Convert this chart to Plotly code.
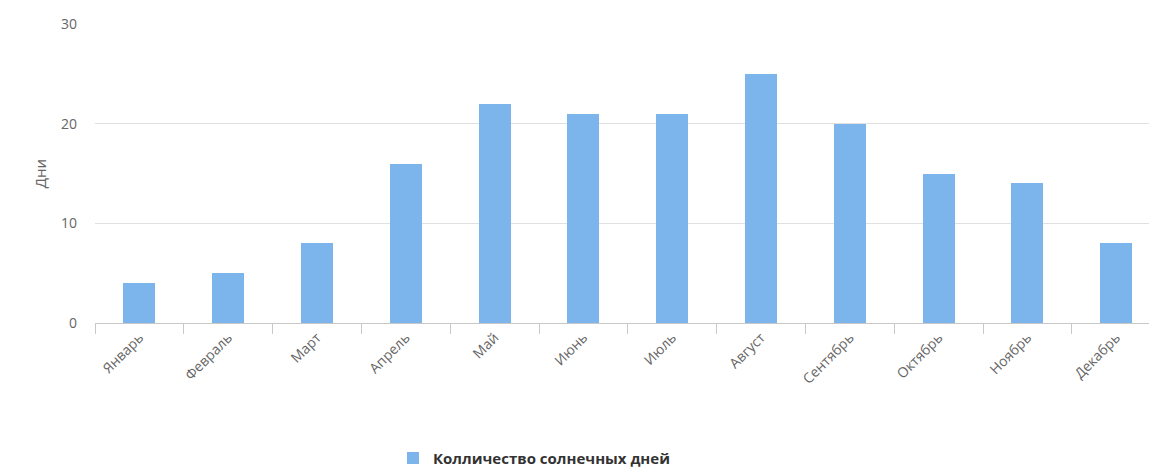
import plotly.graph_objects as go

months = ["Январь", "Февраль", "Март", "Апрель", "Май", "Июнь",
          "Июль", "Август", "Сентябрь", "Октябрь", "Ноябрь", "Декабрь"]
sunny_days = [4, 5, 8, 16, 22, 21, 21, 25, 20, 15, 14, 8]
series_name = "Колличество солнечных дней"
y_title = "Дни"

W, H = 1149, 468
L, T, B = 95, 24, 145
cat_px = 88.8
x_max = (W - L) / cat_px - 0.5

fig = go.Figure()
fig.add_trace(go.Bar(
    x=months, y=sunny_days, name=series_name,
    marker=dict(color="#7cb5ec", line=dict(width=0)),
    width=0.36, showlegend=True,
))

font_family = "Open Sans, DejaVu Sans, sans-serif"
fig.update_layout(
    width=W, height=H,
    margin=dict(l=L, r=0, t=T, b=B, autoexpand=False),
    paper_bgcolor="white", plot_bgcolor="white",
    font=dict(family=font_family, color="#666666"),
    showlegend=True,
    legend=dict(
        orientation="h", x=(534 - L) / (W - L), xanchor="center",
        y=-0.452, yanchor="middle",
        font=dict(size=15, color="#333333", family=font_family, weight="bold"),
    ),
    bargap=0,
)
fig.update_xaxes(
    type="category", range=[-0.5, x_max],
    tickangle=-45, tickfont=dict(size=14, color="#666666"),
    showgrid=False, showline=True, linecolor="#c8c8c8", linewidth=1,
    ticks="outside", tickson="boundaries", ticklen=10, tickcolor="#c8c8c8",
    zeroline=False, fixedrange=True, automargin=False,
)
fig.update_yaxes(
    range=[0, 30], tickvals=[0, 10, 20, 30],
    tickfont=dict(size=14, color="#666666"),
    showgrid=True, gridcolor="#e0e0e0", gridwidth=1,
    zeroline=False, showline=False, ticks="", ticklabelstandoff=17,
    automargin=False,
    title=dict(text=y_title, font=dict(size=15, color="#666666"), standoff=10),
)

fig.write_html("out.html")
